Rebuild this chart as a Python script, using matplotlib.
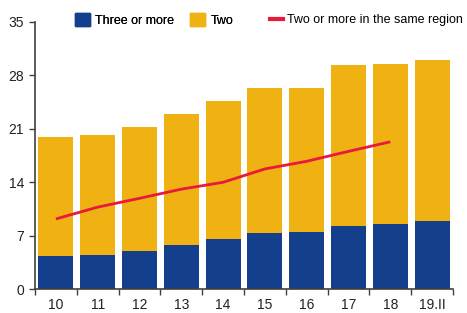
import numpy as np
import matplotlib.pyplot as plt
from matplotlib.lines import Line2D
from matplotlib.patches import Patch

# data
years = ["10", "11", "12", "13", "14", "15", "16", "17", "18", "19.II"]
three_or_more = [4.3, 4.5, 5.0, 5.8, 6.6, 7.35, 7.55, 8.25, 8.55, 8.9]
two = [15.6, 15.65, 16.2, 17.2, 18.1, 18.95, 18.85, 21.05, 20.95, 21.1]
same_region = [9.2, 10.75, 11.9, 13.1, 14.0, 15.75, 16.75, 18.05, 19.3]

blue = "#133f8d"
yellow = "#f0b113"
red = "#e8193c"
axis_col = "#404040"

plt.rcParams["font.family"] = ["Liberation Sans", "DejaVu Sans"]

fig = plt.figure(figsize=(4.67, 3.13), dpi=100)
ax = fig.add_axes([0.075, 0.076, 0.895, 0.854])

x = np.arange(len(years))
ax.bar(x, three_or_more, width=0.84, color=blue, edgecolor="none")
ax.bar(x, two, width=0.84, bottom=three_or_more, color=yellow, edgecolor="none")
ax.plot(x[:len(same_region)], same_region, color=red, lw=2.0, solid_capstyle="butt")

ax.set_xlim(-0.5, len(years) - 0.5)
ax.set_ylim(0, 35)
ax.set_yticks([0, 7, 14, 21, 28, 35])

# labels at bar centres, tick marks between bars
ax.set_xticks(x)
ax.set_xticklabels(years)
ax.set_xticks(np.arange(-0.5, len(years)), minor=True)
ax.tick_params(axis="x", which="major", length=0, pad=6, labelsize=10, colors="#222222")
ax.tick_params(axis="x", which="minor", length=4, width=1, color=axis_col, direction="out")
ax.tick_params(axis="y", length=4, width=1, color=axis_col, pad=4, labelsize=10, labelcolor="#222222")

for s in ["top", "right"]:
    ax.spines[s].set_visible(False)
for s in ["left", "bottom"]:
    ax.spines[s].set_color(axis_col)
    ax.spines[s].set_linewidth(1.2)

# legend above the plot: two patches, then the line entry
bars_leg = fig.legend(handles=[Patch(color=blue, label="Three or more"),
                               Patch(color=yellow, label="Two")],
                      loc="center left", bbox_to_anchor=(75 / 467, 0.936), ncol=2,
                      frameon=False, fontsize=9, handlelength=1.2, handleheight=1.2,
                      handletextpad=0.4, columnspacing=1.3, borderpad=0, borderaxespad=0)
fig.add_artist(bars_leg)
fig.legend(handles=[Line2D([], [], color=red, lw=3, label="Two or more in the same region")],
           loc="center left", bbox_to_anchor=(270 / 467, 0.936),
           frameon=False, fontsize=9, handlelength=1.0, handletextpad=0.35,
           borderpad=0, borderaxespad=0)

fig.savefig("out.png", dpi=100)
